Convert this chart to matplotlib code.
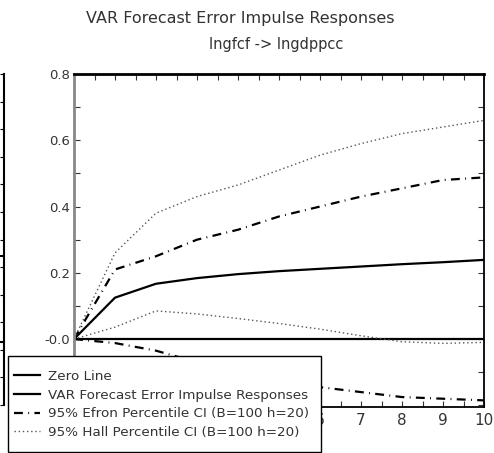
import numpy as np
import matplotlib
matplotlib.use('Agg')
import matplotlib.pyplot as plt
from matplotlib.patches import Rectangle
from matplotlib.ticker import MultipleLocator, FixedLocator, FixedFormatter

# impulse response lngfcf -> lngdppcc, horizons 0..10
horizon = [0, 1, 2, 3, 4, 5, 6, 7, 8, 9, 10]
irf = [0.0, 0.125, 0.167, 0.184, 0.196, 0.205, 0.212, 0.219, 0.226, 0.232, 0.239]
efron_up = [0.0, 0.21, 0.25, 0.30, 0.33, 0.37, 0.40, 0.43, 0.455, 0.48, 0.488]
efron_lo = [0.0, -0.012, -0.035, -0.07, -0.10, -0.125, -0.145, -0.16, -0.175, -0.18, -0.185]
hall_up = [0.0, 0.26, 0.38, 0.43, 0.465, 0.51, 0.555, 0.59, 0.62, 0.64, 0.66]
hall_lo = [0.0, 0.036, 0.085, 0.076, 0.062, 0.047, 0.03, 0.01, -0.008, -0.013, -0.01]

ytick_vals = [0.0, 0.2, 0.4, 0.6, 0.8]
ytick_labels = ['-0.0', '0.2', '0.4', '0.6', '0.8']
xtick_vals = [0, 1, 2, 3, 4, 5, 6, 7, 8, 9, 10]
# labels 0-5 sit under the legend box in the original
xtick_labels = ['', '', '', '', '', '', '6', '7', '8', '9', '10']

txt = '#333333'
W, H = 494, 453
fig = plt.figure(figsize=(W / 100, H / 100), dpi=100)

# remnant of the neighbouring panel on the left edge
ax0 = fig.add_axes([-300 / W, (H - 405) / H, 304 / W, 331 / H])
for s in ['top', 'left', 'bottom']:
    ax0.spines[s].set_visible(False)
ax0.spines['right'].set_linewidth(1.5)
ax0.set_xlim(0, 10)
ax0.set_ylim(0, 12)
ax0.axhline(5.4, color='black', lw=1.5)
ax0.axhline(2.3, color='black', lw=1.5)
ax0.yaxis.set_major_locator(MultipleLocator(1))
ax0.tick_params(axis='y', left=False, right=True, direction='in', length=3,
                labelleft=False)
ax0.tick_params(axis='x', bottom=False, labelbottom=False)

# main panel
ax = fig.add_axes([74 / W, (H - 407) / H, 410 / W, 333 / H])
ax.axhline(0, color='black', lw=1.6, zorder=2, label='Zero Line')
ax.plot(horizon, irf, color='black', lw=1.6,
        label='VAR Forecast Error Impulse Responses')
efron_ls = (0, (4, 2.4, 0.4, 2.4))
ax.plot(horizon, efron_up, color='black', lw=1.6, linestyle=efron_ls,
        label='95% Efron Percentile CI (B=100 h=20)')
ax.plot(horizon, efron_lo, color='black', lw=1.6, linestyle=efron_ls)
hall_ls = (0, (1, 2))
ax.plot(horizon, hall_up, color='#555555', lw=1.0, linestyle=hall_ls,
        label='95% Hall Percentile CI (B=100 h=20)')
ax.plot(horizon, hall_lo, color='#555555', lw=1.0, linestyle=hall_ls)

ax.set_xlim(0, 10)
ax.set_ylim(-0.205, 0.8)

ax.xaxis.set_major_locator(FixedLocator(xtick_vals))
ax.xaxis.set_major_formatter(FixedFormatter(xtick_labels))
ax.xaxis.set_minor_locator(MultipleLocator(0.5))
ax.yaxis.set_major_locator(FixedLocator(ytick_vals))
ax.yaxis.set_major_formatter(FixedFormatter(ytick_labels))
ax.yaxis.set_minor_locator(MultipleLocator(0.1))
ax.tick_params(axis='both', which='both', direction='in', top=True,
               right=True, color='#333333', width=0.8, length=4)
ax.tick_params(axis='x', labelsize=11, labelcolor=txt, pad=4)
ax.tick_params(axis='y', labelsize=9.5, labelcolor=txt, pad=3)

ax.spines['left'].set_color('#888888')
ax.spines['left'].set_linewidth(2)
ax.spines['top'].set_linewidth(2)
ax.spines['bottom'].set_linewidth(1.3)
ax.spines['right'].set_linewidth(1.3)

fig.text(240 / W, 1 - 18 / H, 'VAR Forecast Error Impulse Responses',
         ha='center', va='center', fontsize=11.5, color=txt)
fig.text(276 / W, 1 - 44 / H, 'lngfcf -> lngdppcc',
         ha='center', va='center', fontsize=10.5, color=txt)

# legend box drawn on the figure so it covers the axes
box = Rectangle((8 / W, 1 / H), 313 / W, 96 / H, transform=fig.transFigure,
                facecolor='white', edgecolor='black', lw=1.0, zorder=5)
fig.patches.append(box)
handles, labels = ax.get_legend_handles_labels()
leg = fig.legend(handles, labels, loc='upper left',
                 bbox_to_anchor=(14 / W, 1 - 370 / H),
                 bbox_transform=fig.transFigure, fontsize=9.7, frameon=False,
                 handlelength=1.9, handletextpad=0.6, borderpad=0,
                 labelspacing=0.42, borderaxespad=0)
for t in leg.get_texts():
    t.set_color(txt)
leg.set_zorder(6)

fig.savefig('out.png', dpi=100)
